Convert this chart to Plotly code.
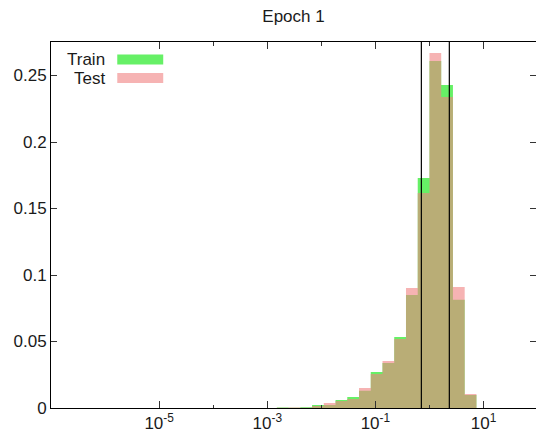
import numpy as np
import plotly.graph_objects as go

# Histogram bins: left edges in natural-log space (bin width 0.5 in ln)
bin_left_ln = [-6.5, -6.0, -5.5, -5.0, -4.5, -4.0, -3.5, -3.0, -2.5, -2.0,
               -1.5, -1.0, -0.5, 0.0, 0.5, 1.0, 1.5]
bin_width_ln = 0.5

train_vals = [0.0003, 0.0002, 0.0005, 0.0023, 0.0023, 0.0060, 0.0083, 0.0130,
              0.0270, 0.0338, 0.0534, 0.0850, 0.1729, 0.2609, 0.2429, 0.0814, 0.0098]
test_vals = [0.0002, 0.0003, 0.0002, 0.0015, 0.0038, 0.0053, 0.0068, 0.0150,
             0.0256, 0.0353, 0.0519, 0.0902, 0.1617, 0.2669, 0.2338, 0.0910, 0.0105]

vlines = [0.708, 2.33]

xtick_vals = [1e-5, 1e-3, 1e-1, 1e1]
xtick_text = ["10<sup>-5</sup>", "10<sup>-3</sup>", "10<sup>-1</sup>", "10<sup>1</sup>"]
xminor_vals = [1e-4, 1e-2, 1e0]
ytick_vals = [0, 0.05, 0.1, 0.15, 0.2, 0.25]
ytick_text = ["0", "0.05", "0.1", "0.15", "0.2", "0.25"]

train_color = "rgba(0,230,0,0.6)"
test_color = "rgba(240,128,128,0.6)"

W, H = 536, 435
PL, PR, PT, PB = 50.7, 537.6, 42, 408  # plot area in window pixels (right edge just off-canvas)
XMIN, XMAX = -7, 2
YMAX = 0.2752


def step_polys(lefts, width, vals):
    xs, ys = [], []
    for l, v in zip(lefts, vals):
        a = float(np.exp(l))
        b = float(np.exp(l + width))
        xs += [a, a, b, b, a, None]
        ys += [0, v, v, 0, 0, None]
    return xs, ys


fig = go.Figure()
for vals, col, name in [(train_vals, train_color, "Train"), (test_vals, test_color, "Test")]:
    xs, ys = step_polys(bin_left_ln, bin_width_ln, vals)
    fig.add_trace(go.Scatter(x=xs, y=ys, mode="lines", fill="toself",
                             fillcolor=col, line=dict(width=0), name=name,
                             hoverinfo="skip", showlegend=False))

for v in vlines:
    fig.add_trace(go.Scatter(x=[v, v], y=[0, YMAX], mode="lines",
                             line=dict(color="black", width=1.2), showlegend=False,
                             hoverinfo="skip"))

# invisible trace to activate the right-hand tick axis
fig.add_trace(go.Scatter(x=[None], y=[None], yaxis="y2", showlegend=False, hoverinfo="skip"))

FAM = "Liberation Sans, Arial, sans-serif"
FS = 17
font = dict(family=FAM, size=FS, color="#1a1a1a")

# visible part of the x range (plot area clipped at the window's right edge)
xmax_vis = XMIN + (W - PL) / (PR - PL) * (XMAX - XMIN)

fig.update_layout(
    width=W, height=H,
    margin=dict(l=PL, r=0, t=PT, b=H - PB, autoexpand=False),
    paper_bgcolor="white", plot_bgcolor="white",
    font=font,
    title=dict(text="Epoch 1", x=0.5, xanchor="center", xref="paper",
               y=1 - 16 / H, yanchor="middle", yref="container",
               font=dict(size=FS, family=FAM, color="#1a1a1a")),
    xaxis=dict(type="log", range=[XMIN, xmax_vis], showgrid=False, zeroline=False,
               showline=True, linecolor="black", linewidth=1, mirror="ticks",
               ticks="inside", ticklen=7, tickcolor="#333", tickwidth=1,
               tickmode="array", tickvals=xtick_vals, ticktext=xtick_text,
               tickfont=dict(size=FS),
               minor=dict(tickmode="array", tickvals=xminor_vals, ticks="inside",
                          ticklen=3.5, tickcolor="#333", showgrid=False)),
    yaxis=dict(range=[0, YMAX], showgrid=False, zeroline=False,
               showline=True, linecolor="black", linewidth=1, mirror=False,
               ticks="inside", ticklen=6, tickcolor="#333", tickwidth=1,
               tickmode="array", tickvals=ytick_vals, ticktext=ytick_text,
               tickfont=dict(size=FS)),
    yaxis2=dict(range=[0, YMAX], overlaying="y", side="right", showgrid=False,
                zeroline=False, showline=False, ticks="inside", ticklen=6,
                tickcolor="#333", tickwidth=1, tickmode="array", tickvals=ytick_vals,
                showticklabels=False),
)

# Legend (gnuplot style: text right-aligned, swatch on the right)
legend_items = [("Train", train_color), ("Test", test_color)]
pw, ph = W - PL, PB - PT
for i, (label, col) in enumerate(legend_items):
    yc = 59.5 + i * 18.5  # pixel center from window top
    fig.add_annotation(xref="paper", yref="paper", x=(107 - PL) / pw, y=(PB - yc) / ph,
                       text=label, showarrow=False, xanchor="right", yanchor="middle",
                       font=dict(size=FS, family=FAM, color="#1a1a1a"))
    fig.add_shape(type="rect", xref="paper", yref="paper",
                  x0=(117 - PL) / pw, x1=(163 - PL) / pw,
                  y0=(PB - (yc - 5)) / ph, y1=(PB - (yc + 5)) / ph,
                  fillcolor=col, line=dict(width=0))

fig.write_html("out.html", config={"displayModeBar": False, "staticPlot": True},
               post_script="document.body.style.margin='0';document.body.style.overflow='hidden';")
